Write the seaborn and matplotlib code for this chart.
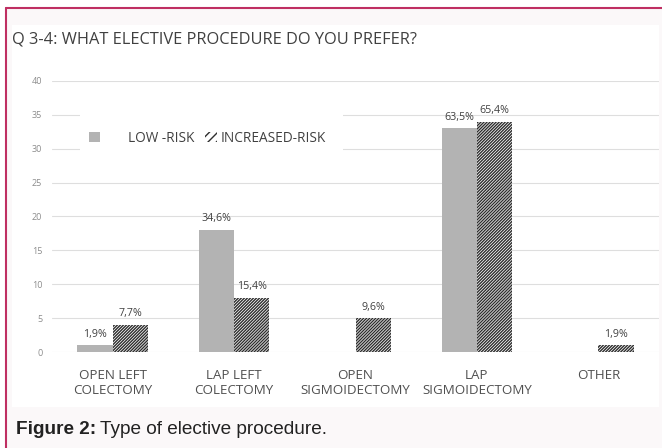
import pandas as pd
import matplotlib.pyplot as plt
import matplotlib.patches as mpatches
from matplotlib.lines import Line2D
import seaborn as sns

procedures = ['OPEN LEFT\nCOLECTOMY', 'LAP LEFT\nCOLECTOMY', 'OPEN\nSIGMOIDECTOMY',
              'LAP\nSIGMOIDECTOMY', 'OTHER']
low_risk = [1, 18, 0, 33, 0]
increased_risk = [4, 8, 5, 34, 1]
low_pct = ['1,9%', '34,6%', '', '63,5%', '']
inc_pct = ['7,7%', '15,4%', '9,6%', '65,4%', '1,9%']
series = ['LOW -RISK', 'INCREASED-RISK']
y_ticks = [0, 5, 10, 15, 20, 25, 30, 35, 40]

df = pd.DataFrame({
    'procedure': procedures * 2,
    'count': low_risk + increased_risk,
    'risk': [series[0]] * len(procedures) + [series[1]] * len(procedures),
})

sns.set_style('white')
plt.rcParams['font.family'] = ['Open Sans', 'DejaVu Sans']
plt.rcParams['hatch.linewidth'] = 1.0

W, H = 662, 448
fig = plt.figure(figsize=(W / 100, H / 100), dpi=100)
fig.patch.set_facecolor('white')


def fx(px):
    return px / W


def fy(py):
    return 1 - py / H


# page frame: pink border, light background, white chart panel
fig.add_artist(mpatches.Rectangle((fx(6), 0), 1 - fx(6), fy(8), transform=fig.transFigure,
                                  facecolor='#fbf8f9', edgecolor='none', zorder=0))
fig.add_artist(mpatches.Rectangle((fx(12), fy(407)), fx(659 - 12), (407 - 25) / H,
                                  transform=fig.transFigure, facecolor='white',
                                  edgecolor='none', zorder=0))
fig.add_artist(Line2D([fx(6), 1], [fy(8), fy(8)], transform=fig.transFigure,
                      color='#bf2f62', lw=1.5))
fig.add_artist(Line2D([fx(6), fx(6)], [0, fy(8)], transform=fig.transFigure,
                      color='#bf2f62', lw=1.5))

ax_l, ax_r, ax_t, ax_b = 52, 659, 81, 352
ax = fig.add_axes([fx(ax_l), fy(ax_b), fx(ax_r - ax_l), (ax_b - ax_t) / H])
ax.set_facecolor('none')

sns.barplot(data=df, x='procedure', y='count', hue='risk', order=procedures,
            hue_order=series, palette={series[0]: '#b3b3b3', series[1]: 'white'},
            saturation=1, width=0.58, gap=0, legend=False, ax=ax)

for bar in ax.containers[0]:
    bar.set_linewidth(0)
for bar in ax.containers[1]:
    bar.set_hatch('/' * 11)
    bar.set_edgecolor('#2e2e2e')
    bar.set_linewidth(0)

ax.bar_label(ax.containers[0], labels=low_pct, padding=4, fontsize=7.7, color='#404040')
ax.bar_label(ax.containers[1], labels=inc_pct, padding=4, fontsize=7.7, color='#404040')

ax.set_ylim(0, 40)
ax.set_xlim(-0.5, 4.5)
ax.set_yticks(y_ticks)
ax.yaxis.grid(True, color='#dedede', lw=0.8)
ax.set_axisbelow(True)
sns.despine(ax=ax, left=True, bottom=True, top=True, right=True)
ax.tick_params(axis='y', length=0, pad=7, labelsize=6.5, labelcolor='#8c8c8c')
ax.tick_params(axis='x', length=0, pad=12, labelsize=9.6, labelcolor='#505050')
for lbl in ax.get_xticklabels():
    lbl.set_linespacing(1.2)
ax.set_xlabel('')
ax.set_ylabel('')


def ax_x(px):
    return (px - ax_l) / (ax_r - ax_l)


def ax_y(py):
    return (ax_b - py) / (ax_b - ax_t)


# white box behind the legend entries (breaks the gridlines like the original)
ax.add_patch(mpatches.Rectangle((ax_x(80), ax_y(152)), ax_x(343) - ax_x(80),
                                ax_y(111) - ax_y(152), transform=ax.transAxes,
                                facecolor='white', edgecolor='none', zorder=1.5))

low_handle = mpatches.Patch(facecolor='#b3b3b3', edgecolor='none', lw=0)
inc_handle = mpatches.Patch(facecolor='white', edgecolor='#2e2e2e', hatch='////', lw=0)
leg_kw = dict(loc='center left', frameon=False, fontsize=9.8, handleheight=0.72,
              borderpad=0, borderaxespad=0, labelcolor='#404040')
leg1 = ax.legend([low_handle], [series[0]], bbox_to_anchor=(ax_x(89), ax_y(138)),
                 handlelength=0.8, handletextpad=2.1, **leg_kw)
ax.add_artist(leg1)
ax.legend([inc_handle], [series[1]], bbox_to_anchor=(ax_x(205), ax_y(138)),
          handlelength=0.9, handletextpad=0.25, **leg_kw)

fig.text(fx(12), fy(39), 'Q 3-4: WHAT ELECTIVE PROCEDURE DO YOU PREFER?', fontsize=11.8,
         color='#404040', va='center', ha='left')
cap1 = fig.text(fx(16), fy(429), 'Figure 2:', fontsize=13.7, fontweight='bold',
                family='Liberation Sans', color='#222222', va='center', ha='left')
fig.canvas.draw()
bb = cap1.get_window_extent()
fig.text(fx(bb.x1 + 4), fy(429), 'Type of elective procedure.', fontsize=13.7,
         family='Liberation Sans', color='#222222', va='center', ha='left')

fig.savefig('out.png', dpi=100)
